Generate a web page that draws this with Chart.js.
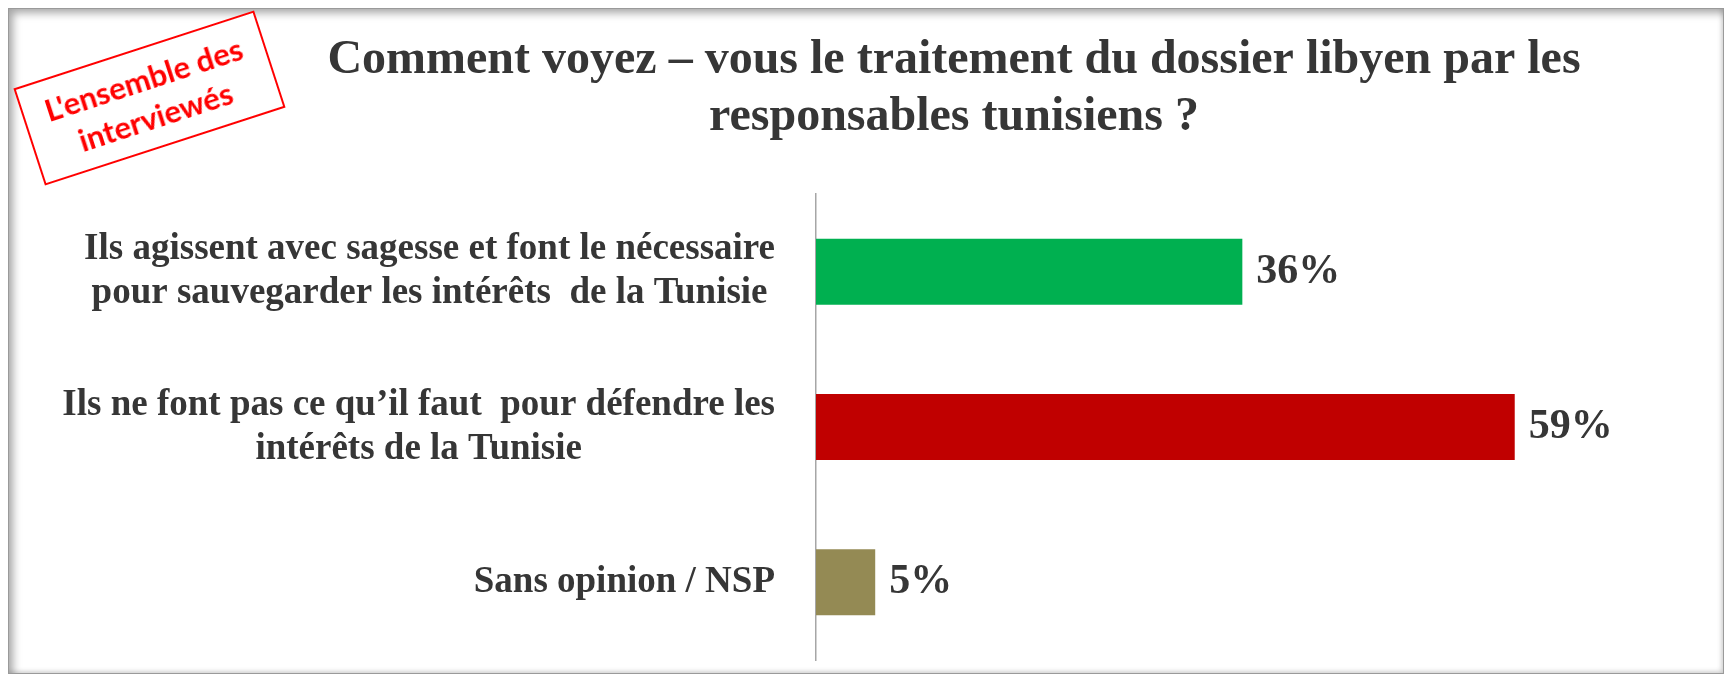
<!DOCTYPE html>
<html lang="fr">
<head>
<meta charset="utf-8">
<title>Traitement du dossier libyen</title>
<script src="https://cdn.jsdelivr.net/npm/chart.js@4"></script>
<style>
    html, body {
        margin: 0;
        padding: 0;
        background: #ffffff;
        width: 1728px;
        height: 679px;
        overflow: hidden;
    }
    .frame {
        position: absolute;
        left: 8px;
        top: 8px;
        width: 1716px;
        height: 666px;
        box-sizing: border-box;
        border: 1px solid #9a9a9a;
        box-shadow: inset 4px 4px 8px rgba(0, 0, 0, 0.35), inset -2px -2px 4px rgba(0, 0, 0, 0.12);
    }
    #chart {
        position: absolute;
        left: 0;
        top: 0;
    }
    .stamp {
        position: absolute;
        left: 23px;
        top: 47px;
        width: 253px;
        height: 102px;
        box-sizing: border-box;
        border: 2px solid #ff0000;
        transform: rotate(-18deg);
        display: flex;
        align-items: center;
        justify-content: center;
        text-align: center;
        color: #ff0000;
        font-family: Lato, "Open Sans", sans-serif;
        font-weight: bold;
        font-size: 31px;
        line-height: 39px;
        background: #ffffff;
    }
</style>
</head>
<body>
<div class="frame"></div>
<canvas id="chart" width="1728" height="679"></canvas>
<div class="stamp">L'ensemble des<br>interviewés</div>
<script>
const titleLines = ['Comment voyez – vous le traitement du dossier libyen par les', 'responsables tunisiens ?'];
const categories = [
    ['Ils agissent avec sagesse et font le nécessaire', 'pour sauvegarder les intérêts  de la Tunisie'],
    ['Ils ne font pas ce qu’il faut  pour défendre les', 'intérêts de la Tunisie'],
    ['Sans opinion / NSP']
];
const values = [36, 59, 5];
const barColors = ['#00B050', '#C00000', '#948A54'];

const textColor = '#363636';
const serif = '"Liberation Serif", "Times New Roman", serif';

// value labels at the end of each bar
const barValueLabels = {
    id: 'barValueLabels',
    afterDatasetsDraw(chart) {
        const ctx = chart.ctx;
        const meta = chart.getDatasetMeta(0);
        ctx.save();
        ctx.font = 'bold 42px ' + serif;
        ctx.fillStyle = textColor;
        ctx.textAlign = 'left';
        ctx.textBaseline = 'middle';
        meta.data.forEach((bar, i) => {
            ctx.fillText(values[i] + '%', bar.x + 14, bar.y);
        });
        ctx.restore();
    }
};

// category labels: block right-aligned to the axis, lines centred inside the block
const categoryLabels = {
    id: 'categoryLabels',
    afterDraw(chart) {
        const ctx = chart.ctx;
        const yScale = chart.scales.y;
        const right = chart.chartArea.left - 41;
        const lineHeight = 44;
        ctx.save();
        ctx.font = 'bold 37px ' + serif;
        ctx.fillStyle = textColor;
        ctx.textAlign = 'center';
        ctx.textBaseline = 'middle';
        categories.forEach((lines, i) => {
            const blockWidth = Math.max(...lines.map(l => ctx.measureText(l).width));
            const cx = right - blockWidth / 2;
            const cy = yScale.getPixelForValue(i);
            lines.forEach((line, j) => {
                ctx.fillText(line, cx, cy + (j - (lines.length - 1) / 2) * lineHeight);
            });
        });
        ctx.restore();
    }
};

new Chart(document.getElementById('chart'), {
    type: 'bar',
    data: {
        labels: categories,
        datasets: [{
            data: values,
            backgroundColor: barColors,
            borderWidth: 0,
            barPercentage: 1,
            categoryPercentage: 0.425
        }]
    },
    options: {
        indexAxis: 'y',
        responsive: false,
        animation: false,
        layout: {
            padding: { left: 263, right: 83, top: 0, bottom: 19 }
        },
        plugins: {
            legend: { display: false },
            tooltip: { enabled: false },
            title: {
                display: true,
                text: titleLines,
                color: textColor,
                font: { family: serif, size: 48, weight: 'bold', lineHeight: 1.2 },
                padding: { top: 31.5, bottom: 47.5 }
            }
        },
        scales: {
            x: {
                display: false,
                min: 0,
                max: 70
            },
            y: {
                grid: { display: false },
                border: { display: true, color: '#A6A6A6', width: 1.5 },
                ticks: { display: false },
                afterFit: (scale) => { scale.width = 553; }
            }
        }
    },
    plugins: [barValueLabels, categoryLabels]
});
</script>
</body>
</html>
